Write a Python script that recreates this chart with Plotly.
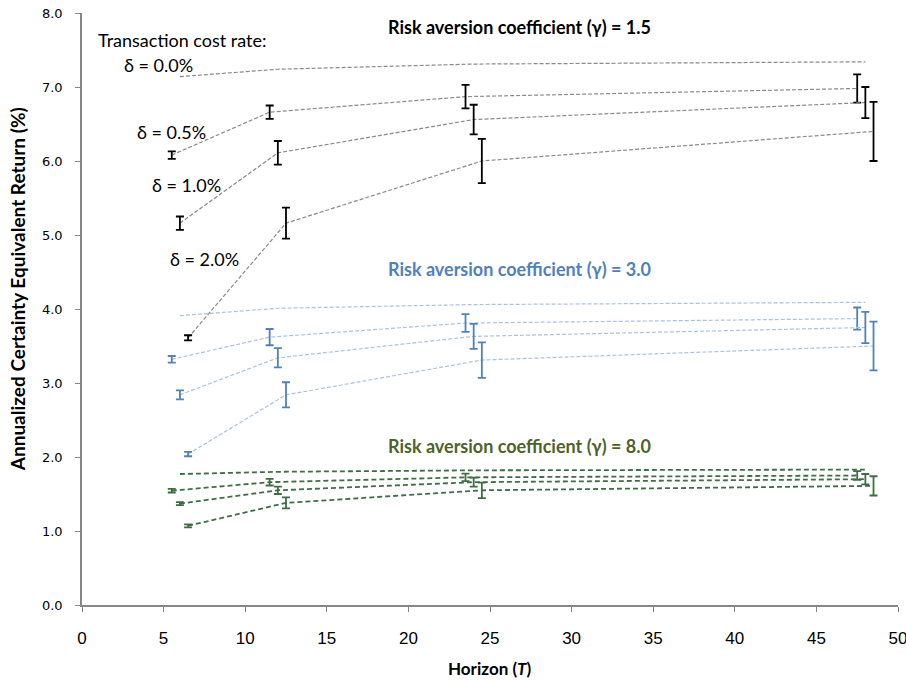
import plotly.graph_objects as go

horizons = [6, 12, 24, 48]
deltas = ["0.0%", "0.5%", "1.0%", "2.0%"]
delta_offsets = [0.0, -0.5, 0.0, 0.5]

# gamma = 1.5
g15_mean = {
    "0.0%": [7.14, 7.24, 7.31, 7.34],
    "0.5%": [6.08, 6.66, 6.87, 6.98],
    "1.0%": [5.16, 6.11, 6.56, 6.79],
    "2.0%": [3.61, 5.16, 6.00, 6.40],
}
g15_err = {
    "0.0%": None,
    "0.5%": [0.05, 0.09, 0.16, 0.19],
    "1.0%": [0.09, 0.16, 0.20, 0.21],
    "2.0%": [0.035, 0.21, 0.30, 0.40],
}
# gamma = 3.0
g30_mean = {
    "0.0%": [3.91, 4.01, 4.06, 4.09],
    "0.5%": [3.32, 3.62, 3.81, 3.87],
    "1.0%": [2.84, 3.34, 3.63, 3.75],
    "2.0%": [2.04, 2.84, 3.31, 3.50],
}
g30_err = {
    "0.0%": None,
    "0.5%": [0.045, 0.11, 0.12, 0.15],
    "1.0%": [0.06, 0.13, 0.17, 0.21],
    "2.0%": [0.03, 0.17, 0.24, 0.33],
}
# gamma = 8.0
g80_mean = {
    "0.0%": [1.77, 1.80, 1.82, 1.83],
    "0.5%": [1.545, 1.66, 1.725, 1.75],
    "1.0%": [1.37, 1.55, 1.66, 1.70],
    "2.0%": [1.07, 1.38, 1.55, 1.61],
}
g80_err = {
    "0.0%": None,
    "0.5%": [0.025, 0.045, 0.05, 0.06],
    "1.0%": [0.02, 0.05, 0.06, 0.07],
    "2.0%": [0.02, 0.075, 0.105, 0.13],
}

groups = [
    (g15_mean, g15_err, "#8a8a8a", "#000000", 1.2, "4px,2px"),
    (g30_mean, g30_err, "#a9c2e4", "#4f81bd", 1.2, "4px,2px"),
    (g80_mean, g80_err, "#3f6e45", "#3f6e45", 1.8, "5px,3px"),
]

fig = go.Figure()
for means, errs, lcol, ecol, lw, dash in groups:
    for d, off in zip(deltas, delta_offsets):
        xs = [h + off for h in horizons]
        e = errs[d]
        fig.add_trace(go.Scatter(
            x=xs, y=means[d], mode="lines",
            line=dict(color=lcol, width=lw, dash=dash),
            showlegend=False, hoverinfo="skip",
        ))
        if e is not None:
            fig.add_trace(go.Scatter(
                x=xs, y=means[d], mode="markers",
                marker=dict(size=1, color="rgba(0,0,0,0)"),
                error_y=dict(type="data", array=e, symmetric=True,
                             color=ecol, thickness=1.8, width=4),
                showlegend=False, hoverinfo="skip",
            ))

TXT = "Lato, Calibri, sans-serif"
FS = 18
ann = []
ann.append(dict(x=26.8, y=7.81, text="<b>Risk aversion coefficient (γ) = 1.5</b>",
                font=dict(color="#000000", size=FS, family=TXT)))
ann.append(dict(x=26.8, y=4.54, text="<b>Risk aversion coefficient (γ) = 3.0</b>",
                font=dict(color="#4f81bd", size=FS, family=TXT)))
ann.append(dict(x=26.8, y=2.15, text="<b>Risk aversion coefficient (γ) = 8.0</b>",
                font=dict(color="#4f6228", size=FS, family=TXT)))
ann.append(dict(x=0.86, y=7.63, text="Transaction cost rate:", xanchor="left",
                font=dict(color="#000000", size=FS, family=TXT)))
label_pos = [(2.45, 7.30), (3.25, 6.39), (4.17, 5.68), (5.27, 4.68)]
for d, (lx, ly) in zip(deltas, label_pos):
    ann.append(dict(x=lx, y=ly, text="δ = " + d, xanchor="left",
                    font=dict(color="#000000", size=FS, family=TXT)))
for a in ann:
    a.update(xref="x", yref="y", showarrow=False)

# axis titles placed as paper annotations
ann.append(dict(xref="paper", yref="paper", x=0.5, y=-0.108, showarrow=False,
                text="<b>Horizon (<i>T</i>)</b>", xanchor="center", yanchor="middle",
                font=dict(family=TXT, size=17, color="#000")))
ann.append(dict(xref="paper", yref="paper", x=-0.078, y=0.534, showarrow=False,
                text="<b>Annualized Certainty Equivalent Return (%)</b>", textangle=-90,
                xanchor="center", yanchor="middle",
                font=dict(family=TXT, size=19, color="#000")))

fig.update_layout(
    width=906, height=681,
    margin=dict(l=82, r=8, t=13, b=76),
    plot_bgcolor="white", paper_bgcolor="white",
    annotations=ann,
    xaxis=dict(range=[0, 50.0001], tickmode="array", tickvals=list(range(0, 51, 5)),
               ticks="outside", ticklen=5, tickcolor="#868686", automargin=False,
               ticklabeloverflow="allow", ticklabelstandoff=12,
               showline=True, linecolor="#868686", linewidth=1.5,
               showgrid=False, zeroline=False,
               tickfont=dict(family="Liberation Sans Narrow, Arial Narrow, sans-serif", size=17, color="#000")),
    yaxis=dict(range=[0, 8], tickmode="array", tickvals=[0, 1, 2, 3, 4, 5, 6, 7, 8],
               ticktext=["0.0", "1.0", "2.0", "3.0", "4.0", "5.0", "6.0", "7.0", "8.0"],
               ticks="outside", ticklen=5, tickcolor="#868686", automargin=False,
               ticklabeloverflow="allow", ticklabelstandoff=10,
               showline=True, linecolor="#868686", linewidth=1.5,
               showgrid=False, zeroline=False,
               tickfont=dict(family="DejaVu Sans, Verdana, sans-serif", size=13, color="#000")),
)

fig.write_html(
    "out.html",
    config={"displayModeBar": False},
    post_script="document.body.style.margin='0';document.body.style.overflow='hidden';",
)
